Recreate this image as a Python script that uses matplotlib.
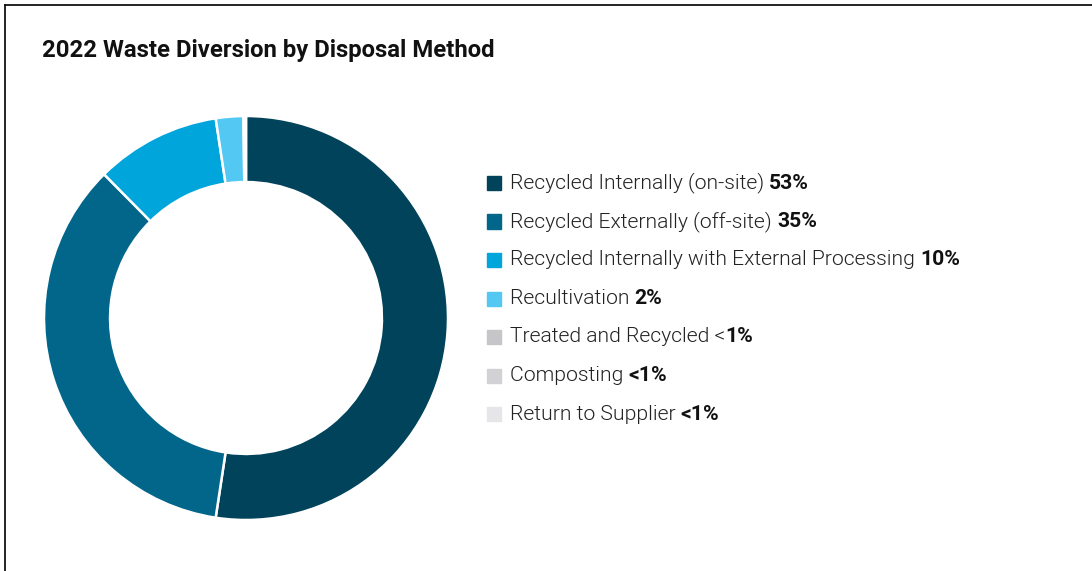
import matplotlib
matplotlib.use("Agg")
import matplotlib.pyplot as plt
from matplotlib.patches import Rectangle
from matplotlib.lines import Line2D

plt.rcParams['font.family'] = ['Roboto', 'DejaVu Sans']

title = "2022 Waste Diversion by Disposal Method"
labels = [
    "Recycled Internally (on-site) ",
    "Recycled Externally (off-site) ",
    "Recycled Internally with External Processing ",
    "Recultivation ",
    "Treated and Recycled <",
    "Composting ",
    "Return to Supplier ",
]
value_labels = ["53%", "35%", "10%", "2%", "1%", "<1%", "<1%"]
# slice sizes
shares = [52.4, 35.2, 10.0, 2.2, 0.1, 0.05, 0.05]
colors = ["#01435A", "#02668B", "#00A5DC", "#52C8F3", "#C6C6C8", "#D2D2D4", "#E6E6E8"]

W, H = 1092, 571
fig = plt.figure(figsize=(W / 100, H / 100), dpi=100)

# frame lines (top and left only)
fig.add_artist(Line2D([4.5 / W, 1], [1 - 4.5 / H] * 2, color="#111111", lw=1.3, transform=fig.transFigure))
fig.add_artist(Line2D([4.5 / W] * 2, [0, 1 - 4.5 / H], color="#111111", lw=1.3, transform=fig.transFigure))

fig.text(42 / W, 1 - 50 / H, title, fontsize=17.2, fontweight="bold", va="center", ha="left", color="#111111")

# donut
cx, cy, r = 246, 318, 202
ax = fig.add_axes([(cx - r) / W, (H - cy - r) / H, 2 * r / W, 2 * r / H])
ax.pie(shares, colors=colors, startangle=90, counterclock=False, radius=1,
       wedgeprops=dict(width=0.327, edgecolor="white", linewidth=1.8))
ax.set_xlim(-1, 1)
ax.set_ylim(-1, 1)
ax.set_aspect("equal")
ax.axis("off")

# legend
fig.canvas.draw()
renderer = fig.canvas.get_renderer()
y0, dy = 183, 38.5
for i, (lab, val, col) in enumerate(zip(labels, value_labels, colors)):
    y = y0 + i * dy
    fig.add_artist(Rectangle((487 / W, 1 - (y + 7) / H), 14 / W, 14 / H, color=col,
                             transform=fig.transFigure))
    t = fig.text(510 / W, 1 - y / H, lab, fontsize=15.2, fontweight=300, va="center", ha="left", color="#222222")
    bb = t.get_window_extent(renderer)
    fig.text(bb.x1 / W, 1 - y / H, val, fontsize=15.2, fontweight="bold", va="center", ha="left", color="#111111")

fig.savefig("out.png", dpi=100)
